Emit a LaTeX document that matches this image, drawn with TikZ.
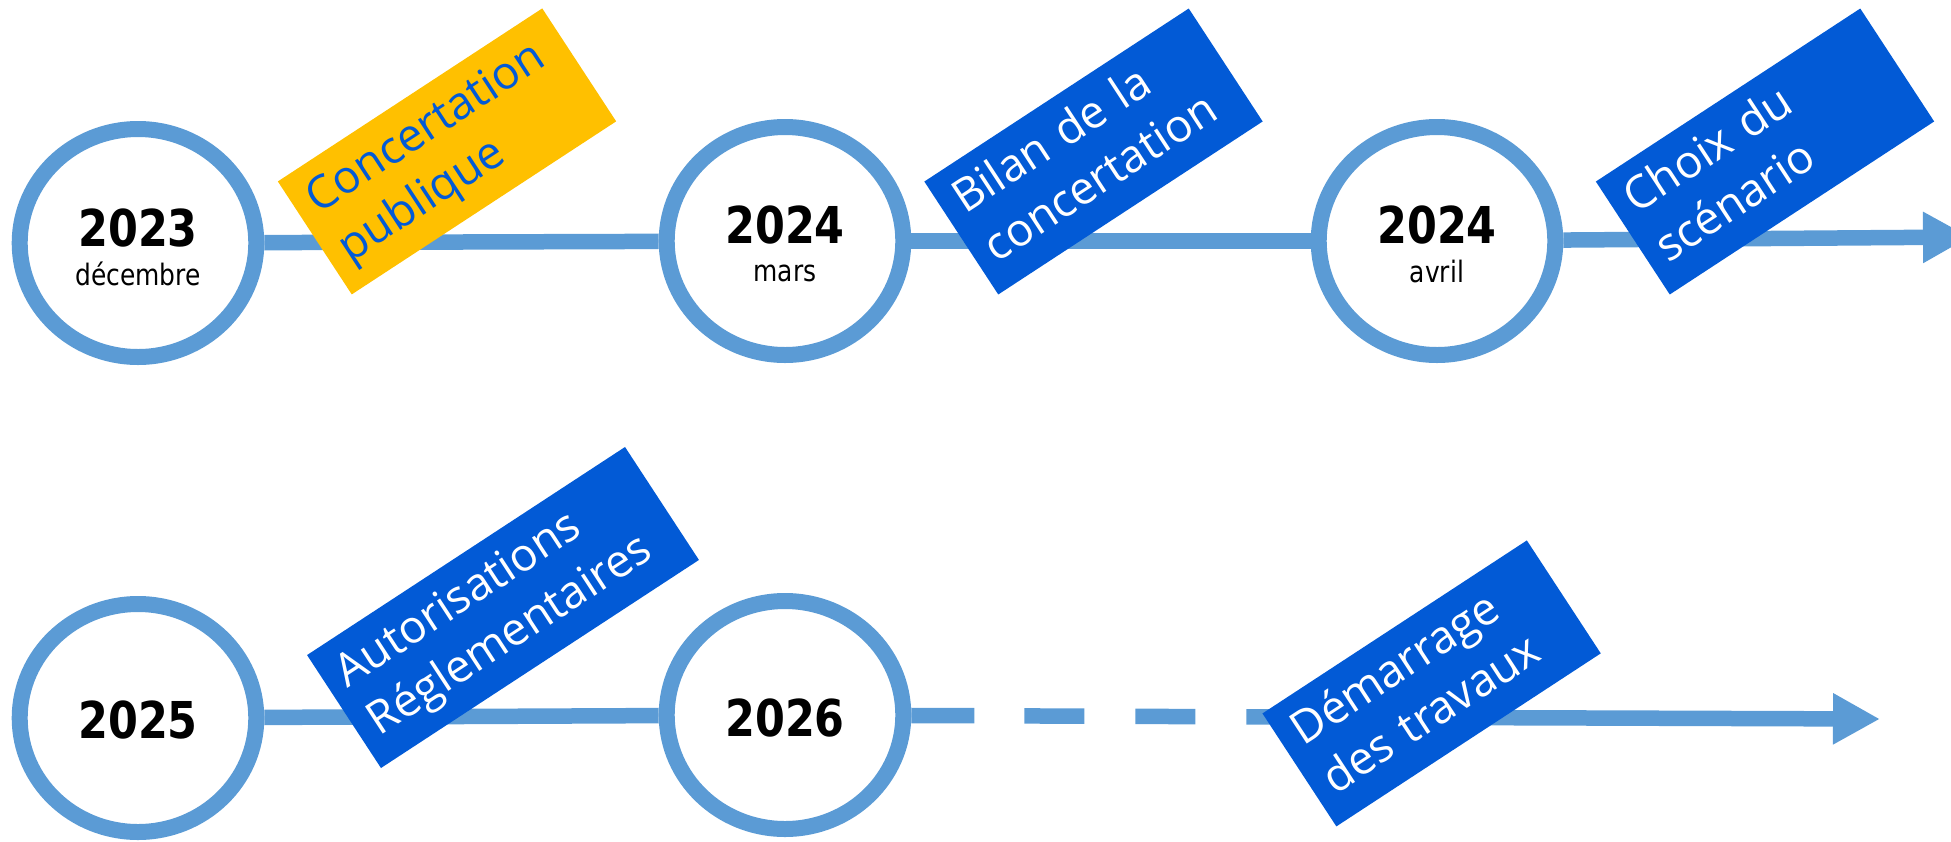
\documentclass[tikz,border=0pt]{standalone}
\usepackage{fontspec}
\setmainfont{Open Sans}
\newfontfamily\yearfont[FakeStretch=0.845]{DejaVu Sans}
\newfontfamily\labelfont{Open Sans}
\usetikzlibrary{arrows.meta,shapes.geometric}
\definecolor{ringblue}{HTML}{5B9BD5}
\definecolor{boxblue}{HTML}{025AD6}
\definecolor{boxyellow}{HTML}{FFC000}
\begin{document}
\begin{tikzpicture}[x=1pt,y=1pt,
  milestone/.style={ellipse, draw=ringblue, line width=16pt, fill=white,
    minimum width=236.6pt, minimum height=228pt, inner sep=0pt},
  yeartxt/.style={font=\yearfont\bfseries\fontsize{50.8}{60}\selectfont, anchor=base, inner sep=0pt},
  monthtxt/.style={font=\yearfont\fontsize{29.5}{35}\selectfont, anchor=base, inner sep=0pt},
  tl/.style={draw=ringblue, line width=15.5pt},
  tip/.style={-{Triangle[length=47pt,width=48pt]}},
  phase/.style={rotate=33.2, minimum height=135pt, inner xsep=16pt, inner ysep=0pt,
    align=left, font=\labelfont\fontsize{45.5}{58}\selectfont, text=white, fill=boxblue,
    text width=284pt},
]
\useasboundingbox (0,0) rectangle (1951,-841);

% milestones
\node[milestone] (C1) at (138,-243) {};
\node[milestone] (C2) at (785,-241) {};
\node[milestone] (C3) at (1437,-241) {};
\node[milestone] (C4) at (138,-718) {};
\node[milestone] (C5) at (785,-715) {};

\node[yeartxt] (y1) at (138,-246) {2023};
\node[monthtxt] (m1) at (138,-285) {décembre};
\node[yeartxt] (y2) at (785,-243) {2024};
\node[monthtxt] (m2) at (785,-281) {mars};
\node[yeartxt] (y3) at (1437,-243) {2024};
\node[monthtxt] (m3) at (1437,-282) {avril};
\node[yeartxt] (y4) at (138,-738) {2025};
\node[yeartxt] (y5) at (785,-736) {2026};

% connectors
\coordinate (endTop) at (1970,-237);
\coordinate (dashEnd) at (1300,-717);
\coordinate (endBot) at (1880,-719);
\draw[tl] (C1) -- (C2);
\draw[tl] (C2) -- (C3);
\draw[tl,tip] (C3) -- (endTop);
\draw[tl] (C4) -- (C5);
\draw[tl, dash pattern=on 63pt off 50pt on 60pt off 51pt on 60pt off 51pt on 400pt] (C5) -- (dashEnd);
\draw[tl,tip] (dashEnd) -- (endBot);

% phase labels
\node[phase, fill=boxyellow, text=boxblue] (P1) at (447,-151.4) {Concertation\strut\\publique\strut};
\node[phase] (P2) at (1093.5,-151.5) {Bilan de la\strut\\concertation\strut};
\node[phase] (P3) at (1765,-151.5) {Choix du\strut\\scénario\strut};
\node[phase, text width=348pt] (P4) at (503,-607.5) {Autorisations\strut\\Réglementaires\strut};
\node[phase] (P5) at (1431.6,-683.4) {Démarrage\strut\\des travaux\strut};
\end{tikzpicture}
\end{document}
